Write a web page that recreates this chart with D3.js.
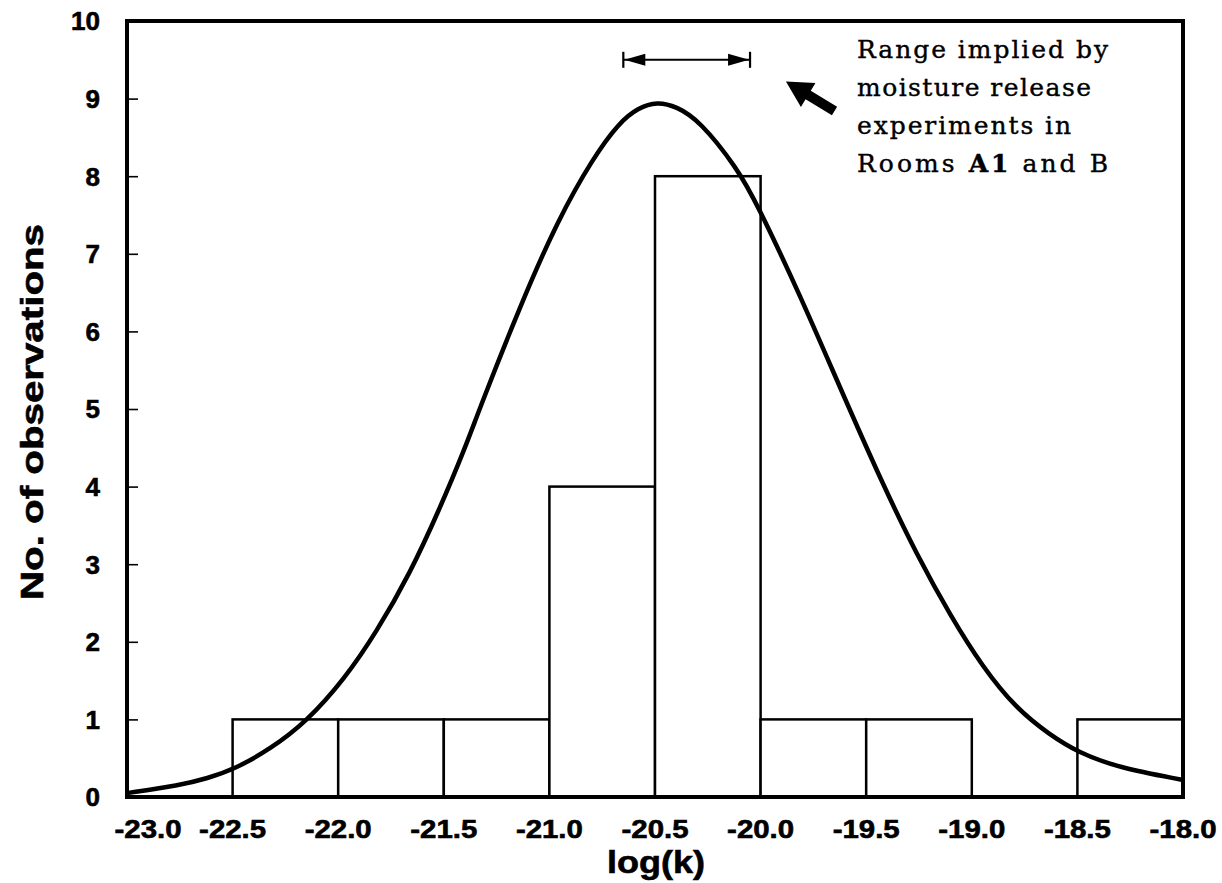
<!DOCTYPE html>
<html>
<head>
<meta charset="utf-8">
<script src="https://cdn.jsdelivr.net/npm/d3@7"></script>
<style>
  html, body { margin: 0; padding: 0; background: #fff; }
  svg { display: block; }
</style>
</head>
<body>
<svg id="chart" width="1222" height="883"></svg>
<script>
// ---- data ----
const binStarts = [-22.5, -22.0, -21.5, -21.0, -20.5, -20.0, -19.5, -18.5];
const binEnds   = [-22.0, -21.5, -21.0, -20.5, -20.0, -19.5, -19.0, -18.0];
const binCounts = [1, 1, 1, 4, 8, 1, 1, 1];

// fitted curve, points
const curveX = [-23.0, -22.75, -22.62, -22.49, -22.32, -22.15, -21.97, -21.82, -21.66, -21.52, -21.40, -21.33, -21.14, -20.96, -20.79, -20.67, -20.58, -20.49, -20.40, -20.29, -20.11, -20.02, -19.81, -19.62, -19.42, -19.26, -19.10, -18.95, -18.79, -18.63, -18.50, -18.31, -18.0];
const curveY = [0.05, 0.15, 0.24, 0.36, 0.62, 0.97, 1.52, 2.12, 2.88, 3.71, 4.49, 5.01, 6.32, 7.44, 8.25, 8.69, 8.88, 8.96, 8.90, 8.72, 8.10, 7.66, 6.45, 5.25, 4.02, 3.12, 2.33, 1.68, 1.14, 0.80, 0.58, 0.38, 0.22];

const xTickValues = [-23.0, -22.5, -22.0, -21.5, -21.0, -20.5, -20.0, -19.5, -19.0, -18.5, -18.0];
const xTickLabels = ["-23.0", "-22.5", "-22.0", "-21.5", "-21.0", "-20.5", "-20.0", "-19.5", "-19.0", "-18.5", "-18.0"];
const yTickValues = [0, 1, 2, 3, 4, 5, 6, 7, 8, 9, 10];
const yTickLabels = ["0", "1", "2", "3", "4", "5", "6", "7", "8", "9", "10"];

const xTitle = "log(k)";
const yTitle = "No. of observations";

const rangeLow = -20.65, rangeHigh = -20.05, rangeLevel = 9.5;
const arrowTip = [-19.88, 9.22], arrowTail = [-19.65, 8.84];
const noteLines = ["Range implied by", "moisture release", "experiments in", "Rooms |A1| and B"];

// ---- layout ----
const svg = d3.select("#chart");
const pLeft = 127, pRight = 1183, pTop = 21, pBottom = 797;
const x = d3.scaleLinear().domain([-23, -18]).range([pLeft, pRight]);
const y = d3.scaleLinear().domain([0, 10]).range([pBottom, pTop]);

// bars
const bars = binStarts.map((s, i) => ({ s, e: binEnds[i], c: binCounts[i] }));
svg.append("g").selectAll("rect").data(bars).join("rect")
  .attr("x", d => x(d.s))
  .attr("y", d => y(d.c))
  .attr("width", d => x(d.e) - x(d.s))
  .attr("height", d => y(0) - y(d.c))
  .attr("fill", "#fff")
  .attr("stroke", "#000")
  .attr("stroke-width", 2.5);

// curve
const pts = curveX.map((v, i) => [v, curveY[i]]);
svg.append("path")
  .datum(pts)
  .attr("d", d3.line().x(d => x(d[0])).y(d => y(d[1])).curve(d3.curveBasis))
  .attr("fill", "none")
  .attr("stroke", "#000")
  .attr("stroke-width", 4.5)
  .attr("stroke-linejoin", "round");

// y axis ticks (inside)
const yAxis = d3.axisRight(y).tickValues(yTickValues.slice(1, 10)).tickSize(11).tickFormat("");
const gy = svg.append("g").attr("transform", `translate(${pLeft},0)`).call(yAxis);
gy.select(".domain").remove();
gy.selectAll(".tick line").attr("stroke", "#000").attr("stroke-width", 1.6);

// frame
svg.append("rect")
  .attr("x", pLeft).attr("y", pTop)
  .attr("width", pRight - pLeft).attr("height", pBottom - pTop)
  .attr("fill", "none").attr("stroke", "#000").attr("stroke-width", 4);

// y tick labels
svg.append("g").selectAll("text").data(yTickValues).join("text")
  .attr("x", 100)
  .attr("y", d => y(d))
  .attr("dy", "0.36em")
  .attr("text-anchor", "end")
  .attr("font-family", "Liberation Sans, Arial, sans-serif")
  .attr("font-weight", "bold")
  .attr("font-size", 26)
  .attr("stroke", "#000").attr("stroke-width", 0.6)
  .text((d, i) => yTickLabels[i]);

// x tick labels
svg.append("g").selectAll("text").data(xTickValues).join("text")
  .attr("x", (d, i) => x(d) + (i === 0 ? 21 : 0))
  .attr("y", 838)
  .attr("text-anchor", "middle")
  .attr("font-family", "Liberation Sans, Arial, sans-serif")
  .attr("font-weight", "bold")
  .attr("font-size", 25)
  .attr("textLength", 67)
  .attr("lengthAdjust", "spacingAndGlyphs")
  .attr("stroke", "#000").attr("stroke-width", 0.6)
  .text((d, i) => xTickLabels[i]);

// axis titles
svg.append("text")
  .attr("x", 656).attr("y", 873)
  .attr("text-anchor", "middle")
  .attr("font-family", "Liberation Sans, Arial, sans-serif")
  .attr("font-weight", "bold")
  .attr("font-size", 32)
  .attr("textLength", 98)
  .attr("lengthAdjust", "spacingAndGlyphs")
  .attr("stroke", "#000").attr("stroke-width", 0.6)
  .text(xTitle);

svg.append("text")
  .attr("transform", "translate(43,412) rotate(-90)")
  .attr("text-anchor", "middle")
  .attr("font-family", "Liberation Sans, Arial, sans-serif")
  .attr("font-weight", "bold")
  .attr("font-size", 31)
  .attr("textLength", 376)
  .attr("lengthAdjust", "spacingAndGlyphs")
  .attr("stroke", "#000").attr("stroke-width", 0.6)
  .text(yTitle);

// range double arrow
const ry = y(rangeLevel), rx0 = x(rangeLow), rx1 = x(rangeHigh);
const ga = svg.append("g");
ga.append("line").attr("x1", rx0).attr("x2", rx1).attr("y1", ry).attr("y2", ry)
  .attr("stroke", "#000").attr("stroke-width", 2);
[rx0, rx1].forEach(px => {
  ga.append("line").attr("x1", px).attr("x2", px).attr("y1", ry - 8).attr("y2", ry + 8)
    .attr("stroke", "#000").attr("stroke-width", 2.2);
});
ga.append("path").attr("d", `M${rx0 + 1},${ry} L${rx0 + 22},${ry - 6} L${rx0 + 22},${ry + 6} Z`).attr("fill", "#000");
ga.append("path").attr("d", `M${rx1 - 1},${ry} L${rx1 - 22},${ry - 6} L${rx1 - 22},${ry + 6} Z`).attr("fill", "#000");

// big pointer arrow
const tx = x(arrowTip[0]), ty = y(arrowTip[1]);
const sx = x(arrowTail[0]), sy = y(arrowTail[1]);
const ang = Math.atan2(sy - ty, sx - tx);
const ux = Math.cos(ang), uy = Math.sin(ang), nx = -uy, ny = ux;
const hl = 26, hw = 14, sw = 5;
const bx = tx + ux * hl, by = ty + uy * hl;
const arrowPath = [
  [tx, ty],
  [bx + nx * hw, by + ny * hw],
  [bx + nx * sw, by + ny * sw],
  [sx + nx * sw, sy + ny * sw],
  [sx - nx * sw, sy - ny * sw],
  [bx - nx * sw, by - ny * sw],
  [bx - nx * hw, by - ny * hw]
];
svg.append("path").attr("d", "M" + arrowPath.map(p => p.join(",")).join("L") + "Z").attr("fill", "#000");

// annotation text
const note = svg.append("g")
  .attr("font-family", "'DejaVu Serif', serif")
  .attr("font-size", 25)
  .attr("fill", "#000")
  .attr("stroke", "#000")
  .attr("stroke-width", 0.4);
const noteBase = [58, 96, 134, 172];
const noteWidth = [251, 234, 214, 251];
noteLines.forEach((line, i) => {
  const t = note.append("text").attr("x", 857).attr("y", noteBase[i])
    .attr("textLength", noteWidth[i]).attr("lengthAdjust", "spacing");
  line.split("|").forEach((part, j) => {
    t.append("tspan").attr("font-weight", j === 1 ? "bold" : "normal").text(part);
  });
});
</script>
</body>
</html>
